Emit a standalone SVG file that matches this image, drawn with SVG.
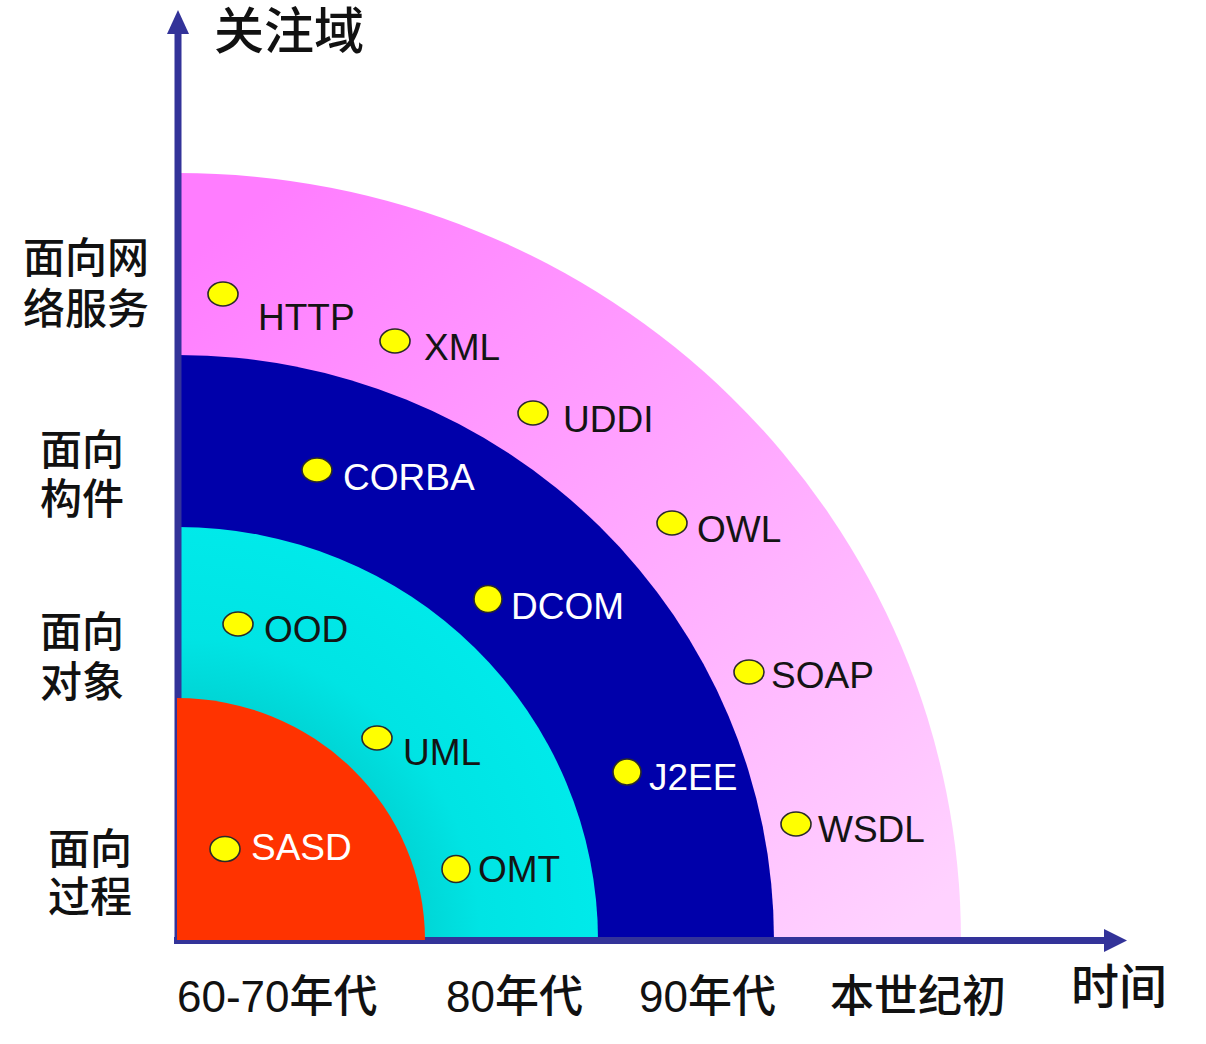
<svg xmlns="http://www.w3.org/2000/svg" width="1206" height="1044" viewBox="0 0 1206 1044">
<style>
.lbl{font-family:"Liberation Sans","Noto Sans CJK SC",sans-serif;font-size:37px}
.dk{fill:#141414}
.wt{fill:#ffffff}
.cjk{font-family:"Liberation Sans","Noto Sans CJK SC",sans-serif;fill:#111;font-weight:500}
.dot{fill:#ffff00;stroke:#2a2a2a;stroke-width:1.6}
.axis{stroke:#333399;stroke-width:7;fill:none}
</style>
<defs>
<linearGradient id="gPink" gradientUnits="userSpaceOnUse" x1="300" y1="170" x2="900" y2="930">
<stop offset="0" stop-color="#ff7dff"/>
<stop offset="1" stop-color="#ffd2ff"/>
</linearGradient>
<radialGradient id="gCyan" gradientUnits="userSpaceOnUse" cx="178" cy="940" r="420">
<stop offset="0.58" stop-color="#00d6d6"/>
<stop offset="0.72" stop-color="#00e4e4"/>
<stop offset="1" stop-color="#00eaea"/>
</radialGradient>
</defs>
<rect width="1206" height="1044" fill="#ffffff"/>

<g id="band-web">
<path d="M178 940 L178 173 A783 767 0 0 1 961 940 Z" fill="url(#gPink)"/>
</g>
<g id="band-component">
<path d="M178 940 L178 355 A596 585 0 0 1 774 940 Z" fill="#0000aa"/>
</g>
<g id="band-object">
<path d="M178 940 L178 527 A420 413 0 0 1 598 940 Z" fill="url(#gCyan)"/>
</g>

<g id="axes">
<line class="axis" x1="178" y1="940" x2="178" y2="30"/>
<path d="M178 10 L189 34 L167 34 Z" fill="#333399"/>
<line class="axis" x1="174" y1="940.5" x2="1108" y2="940.5"/>
<path d="M1127 940.5 L1104 929 L1104 952 Z" fill="#333399"/>
</g>

<g id="band-process">
<path d="M177 940 L177 698 A248 242 0 0 1 425 940 Z" fill="#ff3300"/>
</g>

<g id="node-http"><ellipse class="dot" cx="223" cy="294" rx="15" ry="12"/><text class="lbl dk" x="258" y="330">HTTP</text></g>
<g id="node-xml"><ellipse class="dot" cx="395" cy="341" rx="15" ry="12"/><text class="lbl dk" x="424" y="360">XML</text></g>
<g id="node-uddi"><ellipse class="dot" cx="533" cy="413" rx="15" ry="12"/><text class="lbl dk" x="563" y="432">UDDI</text></g>
<g id="node-corba"><ellipse class="dot" cx="317" cy="470" rx="15" ry="12"/><text class="lbl wt" x="343" y="490">CORBA</text></g>
<g id="node-owl"><ellipse class="dot" cx="672" cy="523" rx="15" ry="12"/><text class="lbl dk" x="697" y="542">OWL</text></g>
<g id="node-dcom"><ellipse class="dot" cx="488" cy="599" rx="14" ry="13.5"/><text class="lbl wt" x="511" y="619">DCOM</text></g>
<g id="node-ood"><ellipse class="dot" cx="238" cy="624" rx="15" ry="12"/><text class="lbl dk" x="264" y="642">OOD</text></g>
<g id="node-soap"><ellipse class="dot" cx="749" cy="672" rx="15" ry="12"/><text class="lbl dk" x="771" y="688">SOAP</text></g>
<g id="node-uml"><ellipse class="dot" cx="377" cy="738" rx="15" ry="12"/><text class="lbl dk" x="403" y="765">UML</text></g>
<g id="node-j2ee"><ellipse class="dot" cx="627" cy="772" rx="14" ry="13"/><text class="lbl wt" x="649" y="790">J2EE</text></g>
<g id="node-wsdl"><ellipse class="dot" cx="796" cy="824" rx="15" ry="12"/><text class="lbl dk" x="818" y="842">WSDL</text></g>
<g id="node-sasd"><ellipse class="dot" cx="225" cy="849" rx="15" ry="12.5"/><text class="lbl wt" x="251" y="860">SASD</text></g>
<g id="node-omt"><ellipse class="dot" cx="456" cy="869" rx="14" ry="13.5"/><text class="lbl dk" x="478" y="882">OMT</text></g>

<g id="title-y"><text class="cjk" x="214" y="49" font-size="50">关注域</text></g>
<g id="title-x"><text class="cjk" x="1071" y="1004" font-size="48">时间</text></g>

<g id="y-labels">
<text class="cjk" font-size="42" x="23" y="273">面向网</text>
<text class="cjk" font-size="42" x="23" y="324">络服务</text>
<text class="cjk" font-size="42" x="40" y="465">面向</text>
<text class="cjk" font-size="42" x="40" y="514">构件</text>
<text class="cjk" font-size="42" x="40" y="647">面向</text>
<text class="cjk" font-size="42" x="40" y="697">对象</text>
<text class="cjk" font-size="42" x="48" y="864">面向</text>
<text class="cjk" font-size="42" x="48" y="912">过程</text>
</g>

<g id="x-labels">
<text class="cjk" font-size="44" x="177" y="1012">60-70年代</text>
<text class="cjk" font-size="44" x="446" y="1012">80年代</text>
<text class="cjk" font-size="44" x="639" y="1012">90年代</text>
<text class="cjk" font-size="44" x="830" y="1012">本世纪初</text>
</g>
</svg>
